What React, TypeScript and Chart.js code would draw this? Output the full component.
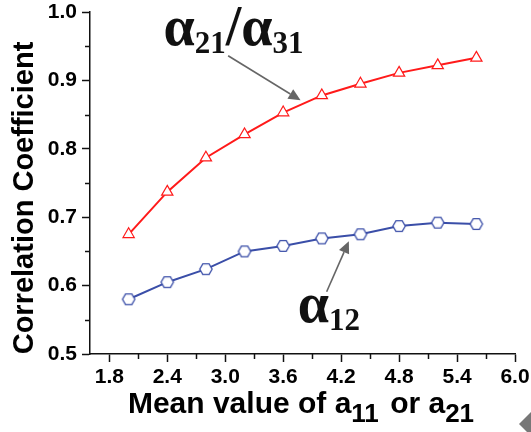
import React, { useEffect, useRef } from 'react';
import { Chart, registerables } from 'chart.js';

Chart.register(...registerables);

const xValues = [2.0, 2.4, 2.8, 3.2, 3.6, 4.0, 4.4, 4.8, 5.2, 5.6];
const alpha2131 = [0.675, 0.737, 0.787, 0.821, 0.853, 0.878, 0.895, 0.911, 0.922, 0.933];
const alpha12 = [0.58, 0.605, 0.624, 0.65, 0.658, 0.669, 0.675, 0.687, 0.692, 0.69];
const xTickValues = [1.8, 2.4, 3.0, 3.6, 4.2, 4.8, 5.4, 6.0];
const xMinorTicks = [2.1, 2.7, 3.3, 3.9, 4.5, 5.1, 5.7];
const yTickValues = [0.5, 0.6, 0.7, 0.8, 0.9, 1.0];
const yMinorTicks = [0.55, 0.65, 0.75, 0.85, 0.95];

const RED = '#ff1a1a';
const BLUE = '#3a4ea8';
const GRAY = '#666666';

function makeHex(color: string) {
  const c = document.createElement('canvas');
  c.width = 16;
  c.height = 16;
  const ctx = c.getContext('2d')!;
  const r = 6.2;
  ctx.beginPath();
  for (let i = 0; i < 6; i++) {
    const a = (Math.PI / 3) * i;
    const px = 8 + r * Math.cos(a);
    const py = 8 + r * Math.sin(a);
    if (i === 0) ctx.moveTo(px, py);
    else ctx.lineTo(px, py);
  }
  ctx.closePath();
  ctx.fillStyle = '#ffffff';
  ctx.fill();
  ctx.strokeStyle = color;
  ctx.lineWidth = 1.3;
  ctx.stroke();
  return c;
}

type Run = { text: string; font: string; dy: number; gapAfter?: number };

function drawRuns(ctx: CanvasRenderingContext2D, runs: Run[], x: number, y: number, align: 'left' | 'center') {
  let total = 0;
  runs.forEach((r) => {
    ctx.font = r.font;
    total += ctx.measureText(r.text).width + (r.gapAfter || 0);
  });
  let cx = align === 'center' ? x - total / 2 : x;
  ctx.textAlign = 'left';
  ctx.textBaseline = 'alphabetic';
  runs.forEach((r) => {
    ctx.font = r.font;
    ctx.fillText(r.text, cx, y + r.dy);
    cx += ctx.measureText(r.text).width + (r.gapAfter || 0);
  });
}

function drawArrow(ctx: CanvasRenderingContext2D, x1: number, y1: number, x2: number, y2: number) {
  const ang = Math.atan2(y2 - y1, x2 - x1);
  const hl = 12;
  const hw = 5.5;
  const bx = x2 - hl * Math.cos(ang);
  const by = y2 - hl * Math.sin(ang);
  ctx.strokeStyle = GRAY;
  ctx.fillStyle = GRAY;
  ctx.lineWidth = 1.6;
  ctx.beginPath();
  ctx.moveTo(x1, y1);
  ctx.lineTo(bx, by);
  ctx.stroke();
  ctx.beginPath();
  ctx.moveTo(x2, y2);
  ctx.lineTo(bx + hw * Math.sin(ang), by - hw * Math.cos(ang));
  ctx.lineTo(bx - hw * Math.sin(ang), by + hw * Math.cos(ang));
  ctx.closePath();
  ctx.fill();
}

const decorPlugin = {
  id: 'decor',
  afterDraw(chart: any) {
    const ctx: CanvasRenderingContext2D = chart.ctx;
    const xs = chart.scales.x;
    const ys = chart.scales.y;
    const area = chart.chartArea;
    ctx.save();
    // minor ticks
    ctx.strokeStyle = '#111';
    ctx.lineWidth = 1.5;
    yMinorTicks.forEach((v) => {
      const py = Math.round(ys.getPixelForValue(v)) + 0.5;
      ctx.beginPath();
      ctx.moveTo(area.left - 5, py);
      ctx.lineTo(area.left, py);
      ctx.stroke();
    });
    xMinorTicks.forEach((v) => {
      const px = Math.round(xs.getPixelForValue(v)) + 0.5;
      ctx.beginPath();
      ctx.moveTo(px, area.bottom);
      ctx.lineTo(px, area.bottom + 5);
      ctx.stroke();
    });

    // y title
    ctx.fillStyle = '#000';
    ctx.save();
    ctx.translate(33, 198);
    ctx.rotate(-Math.PI / 2);
    ctx.font = 'bold 29px "Liberation Sans", Arial, sans-serif';
    ctx.textAlign = 'center';
    ctx.textBaseline = 'alphabetic';
    ctx.fillText('Correlation Coefficient', 0, 0);
    ctx.restore();

    // x title with subscripts
    const mainF = 'bold 30px "Liberation Sans", Arial, sans-serif';
    const subF = 'bold 26px "Liberation Sans", Arial, sans-serif';
    drawRuns(
      ctx,
      [
        { text: 'Mean value of a', font: mainF, dy: 0 },
        { text: '11', font: subF, dy: 9, gapAfter: 3 },
        { text: ' or a', font: mainF, dy: 0 },
        { text: '21', font: subF, dy: 9 },
      ],
      301,
      413,
      'center'
    );

    // annotations
    const greek = 'bold 56px "Liberation Serif", "Times New Roman", serif';
    const greekSub = 'bold 31px "Liberation Serif", "Times New Roman", serif';
    ctx.fillStyle = '#111';
    drawRuns(
      ctx,
      [
        { text: 'α', font: greek, dy: 0 },
        { text: '21', font: greekSub, dy: 8 },
        { text: '/', font: greek, dy: 0 },
        { text: 'α', font: greek, dy: 0 },
        { text: '31', font: greekSub, dy: 8 },
      ],
      xs.getPixelForValue(2.36),
      ys.getPixelForValue(0.952),
      'left'
    );
    drawRuns(
      ctx,
      [
        { text: 'α', font: greek, dy: 0 },
        { text: '12', font: greekSub, dy: 8 },
      ],
      xs.getPixelForValue(3.75),
      ys.getPixelForValue(0.547),
      'left'
    );

    drawArrow(ctx, xs.getPixelForValue(3.03), ys.getPixelForValue(0.936), xs.getPixelForValue(3.78), ys.getPixelForValue(0.871));
    drawArrow(ctx, xs.getPixelForValue(4.05), ys.getPixelForValue(0.591), xs.getPixelForValue(4.28), ys.getPixelForValue(0.665));

    // corner mark
    ctx.fillStyle = '#777';
    ctx.beginPath();
    ctx.moveTo(519, 424);
    ctx.lineTo(531, 412);
    ctx.lineTo(531, 432);
    ctx.lineTo(527, 432);
    ctx.closePath();
    ctx.fill();
    ctx.restore();
  },
};

export default function App() {
  const ref = useRef<HTMLCanvasElement>(null);
  useEffect(() => {
    document.body.style.margin = '0';
    const hex = makeHex(BLUE);
    const tickFont = { family: '"Liberation Sans", Arial, sans-serif', size: 21, weight: 'bold' as const };
    const chart = new Chart(ref.current!, {
      type: 'line',
      data: {
        datasets: [
          {
            label: 'α21/α31',
            data: xValues.map((x, i) => ({ x, y: alpha2131[i] })),
            borderColor: RED,
            borderWidth: 2,
            pointStyle: 'triangle',
            pointRadius: 6.5,
            pointBorderWidth: 1.2,
            pointBackgroundColor: '#ffffff',
            pointBorderColor: RED,
            tension: 0,
          },
          {
            label: 'α12',
            data: xValues.map((x, i) => ({ x, y: alpha12[i] })),
            borderColor: BLUE,
            borderWidth: 2,
            pointStyle: hex as any,
            pointRadius: 6,
            pointBackgroundColor: '#ffffff',
            pointBorderColor: BLUE,
            tension: 0,
          },
        ],
      },
      options: {
        responsive: false,
        animation: false,
        devicePixelRatio: 1,
        layout: { padding: { top: 12, right: 16, left: 0, bottom: 0 } },
        plugins: { legend: { display: false }, tooltip: { enabled: false } },
        scales: {
          x: {
            type: 'linear',
            min: 1.6,
            max: 6.0,
            afterBuildTicks: (s: any) => {
              s.ticks = xTickValues.map((v) => ({ value: v }));
            },
            afterFit: (s: any) => {
              s.height = 78;
              s.paddingLeft = 0;
              s.paddingRight = 0;
            },
            ticks: {
              callback: (v: any) => Number(v).toFixed(1),
              font: tickFont,
              color: '#000',
              padding: 3,
              maxRotation: 0,
              autoSkip: false,
            },
            grid: { display: true, drawOnChartArea: false, drawTicks: true, tickLength: 8, tickWidth: 1.5, tickColor: '#111' },
            border: { display: true, color: '#111', width: 1.5 },
          },
          y: {
            type: 'linear',
            min: 0.5,
            max: 1.0,
            afterBuildTicks: (s: any) => {
              s.ticks = yTickValues.map((v) => ({ value: v }));
            },
            afterFit: (s: any) => {
              s.width = 90;
              s.paddingTop = 0;
              s.paddingBottom = 0;
            },
            ticks: {
              callback: (v: any) => Number(v).toFixed(1),
              font: tickFont,
              color: '#000',
              padding: 5,
              autoSkip: false,
            },
            grid: { display: true, drawOnChartArea: false, drawTicks: true, tickLength: 8, tickWidth: 1.5, tickColor: '#111' },
            border: { display: true, color: '#111', width: 1.5 },
          },
        },
      },
      plugins: [decorPlugin],
    });
    return () => chart.destroy();
  }, []);
  return (
    <div style={{ width: 531, height: 432 }}>
      <canvas ref={ref} width={531} height={432} style={{ display: 'block' }} />
    </div>
  );
}
